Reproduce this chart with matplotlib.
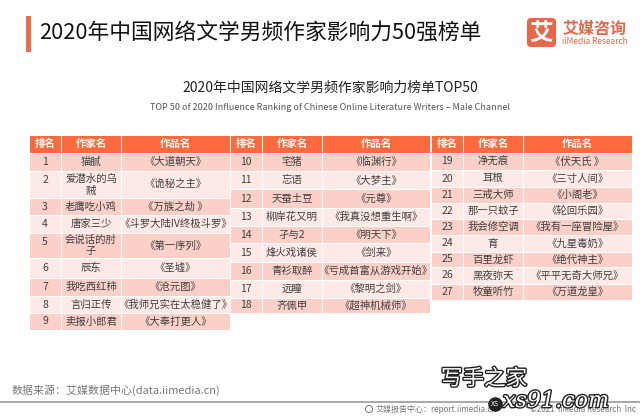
import matplotlib
matplotlib.use("Agg")
import matplotlib.pyplot as plt
import matplotlib.patheffects as pe
from matplotlib.patches import Rectangle, FancyBboxPatch, Circle

plt.rcParams['font.family'] = ['Noto Sans CJK SC', 'DejaVu Sans']

headers = ["排名", "作家名", "作品名"]
ranks_1 = ["1", "2", "3", "4", "5", "6", "7", "8", "9"]
authors_1 = ["猫腻", "爱潜水的乌\n贼", "老鹰吃小鸡", "唐家三少", "会说话的肘\n子", "辰东", "我吃西红柿", "言归正传", "卖报小郎君"]
works_1 = ["《大道朝天》", "《诡秘之主》", "《万族之劫 》", "《斗罗大陆IV终极斗罗》", "《第一序列》", "《圣墟》", "《沧元图》", "《我师兄实在太稳健了》", "《大奉打更人》"]
ranks_2 = ["10", "11", "12", "13", "14", "15", "16", "17", "18"]
authors_2 = ["宅猪", "忘语", "天蚕土豆", "柳岸花又明", "孑与2", "烽火戏诸侯", "青衫取醉", "远瞳", "齐佩甲"]
works_2 = ["《临渊行》", "《大梦主》", "《元尊》", "《我真没想重生啊》", "《明天下》", "《剑来》", "《亏成首富从游戏开始》", "《黎明之剑》", "《超神机械师》"]
ranks_3 = ["19", "20", "21", "22", "23", "24", "25", "26", "27"]
authors_3 = ["净无痕", "耳根", "三戒大师", "那一只蚊子", "我会修空调", "育", "百里龙虾", "黑夜弥天", "牧童听竹"]
works_3 = ["《伏天氏 》", "《三寸人间》", "《小阁老》", "《轮回乐园》", "《我有一座冒险屋》", "《九星毒奶》", "《绝代神主》", "《平平无奇大师兄》", "《万道龙皇》"]

# layout (pixels)
cols_1 = [29, 61, 121, 230]
cols_2 = [230, 262, 322, 430]
cols_3 = [431, 463, 523, 632]
rows_1 = [135, 153, 171, 198, 215, 233, 258, 278, 296, 313, 330]
rows_2 = [135, 153, 171, 189, 208, 226, 243, 262, 280, 298, 313]
rows_3 = [135, 153, 170, 187, 203, 219, 235, 252, 267, 284, 300]
two_line = {"爱潜水的乌\n贼", "会说话的肘\n子"}

HEAD = "#FF6B3C"
ODD = "#FBD0C9"
EVEN = "#FDE9E5"
INK = "#404040"

fig = plt.figure(figsize=(6.4, 4.16), dpi=100)
ax = fig.add_axes([0, 0, 1, 1])
ax.set_xlim(0, 640)
ax.set_ylim(416, 0)
ax.axis("off")


def cell(x0, x1, y0, y1, color):
    ax.add_patch(Rectangle((x0 + .5, y0 + .5), x1 - x0 - 1, y1 - y0 - 1, fc=color, ec="none"))


def draw_table(cols, rows, ranks, authors, works):
    for j, h in enumerate(headers):
        cell(cols[j], cols[j + 1], rows[0], rows[1], HEAD)
        ax.text((cols[j] + cols[j + 1]) / 2, (rows[0] + rows[1]) / 2, h, color="white",
                fontsize=7.5, fontweight="bold", ha="center", va="center")
    for i, vals in enumerate(zip(ranks, authors, works)):
        y0, y1 = rows[i + 1], rows[i + 2]
        for j, v in enumerate(vals):
            cell(cols[j], cols[j + 1], y0, y1, ODD if i % 2 == 0 else EVEN)
            xc = (cols[j] + cols[j + 1]) / 2
            if j == 0 and authors[i] in two_line:
                yc = y0 + 9
            else:
                yc = (y0 + y1) / 2
            ax.text(xc, yc, v, color=INK, fontsize=7.5, ha="center", va="center", linespacing=1.2)


draw_table(cols_1, rows_1, ranks_1, authors_1, works_1)
draw_table(cols_2, rows_2, ranks_2, authors_2, works_2)
draw_table(cols_3, rows_3, ranks_3, authors_3, works_3)

# header band
ax.add_patch(Rectangle((25.5, 16), 5, 36, fc="#EE6A48", ec="none"))
ax.text(39, 33, "2020年中国网络文学男频作家影响力50强榜单", fontsize=15.7, color="#111111", ha="left", va="center")
ax.text(330, 88, "2020年中国网络文学男频作家影响力榜单TOP50", fontsize=10, color="#222222", ha="center", va="center")
ax.text(330, 108, "TOP 50 of 2020 Influence Ranking of Chinese Online Literature Writers – Male Channel",
        fontsize=6.5, color="#555555", ha="center", va="center")

# logo
ax.add_patch(FancyBboxPatch((529, 20), 25, 25, boxstyle="round,pad=2,rounding_size=4", fc="#E8674A", ec="none"))
ax.text(541.5, 32.5, "艾", color="white", fontsize=17, fontweight="bold", ha="center", va="center")
ax.text(594.5, 29, "艾媒咨询", color="#E8674A", fontsize=11.5, fontweight="bold", ha="center", va="center")
ax.text(594.5, 42, "iiMedia Research", color="#E8674A", fontsize=6, ha="center", va="center")

# footer
ax.text(12, 390, "数据来源：艾媒数据中心(data.iimedia.cn)", fontsize=7.9, color="#777777", ha="left", va="center")
ax.plot([0, 640], [402, 402], color="#999999", lw=1.2)
ax.add_patch(Circle((369, 409), 3.5, fc="none", ec="#777777", lw=0.7))
ax.text(376, 409, "艾媒报告中心：report.iimedia.cn", fontsize=5.8, color="#777777", ha="left", va="center")
ax.text(636, 409, "©2021  iiMedia Research  Inc", fontsize=5.8, color="#777777", ha="right", va="center")

# watermark
stroke = [pe.withStroke(linewidth=2, foreground="#222222")]
ax.text(484, 379, "写手之家", fontsize=15.5, color="white", ha="center", va="center", path_effects=stroke)
ax.text(556, 401, "xs91.com", fontsize=16, style="italic", family="DejaVu Serif", color="white",
        ha="center", va="center", path_effects=stroke)
ax.scatter([495], [404], s=90, color="#222222", zorder=3)
ax.text(495, 404, "XS", fontsize=5, color="white", ha="center", va="center", zorder=4)

fig.savefig("out.png", dpi=100)
